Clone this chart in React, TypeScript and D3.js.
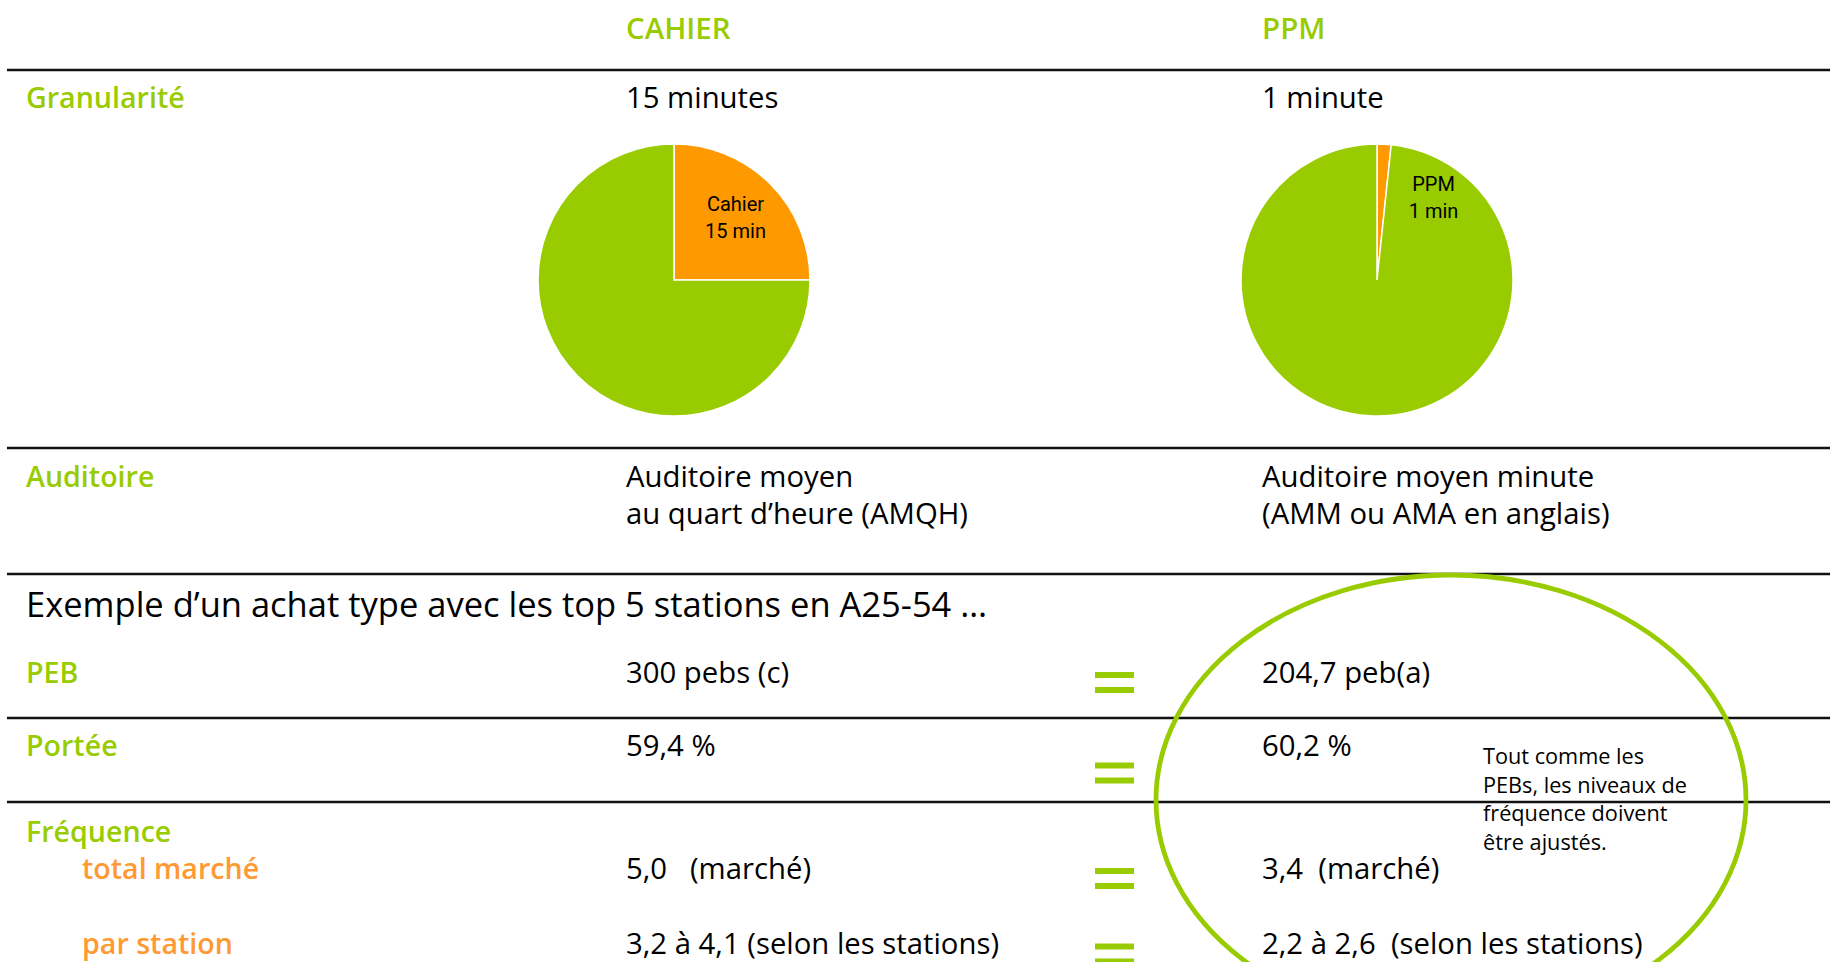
import React from "react";
import * as d3 from "d3";

const width = 1830;
const height = 962;

const GREEN = "#99CC00";
const ORANGE = "#FF9900";
const ORANGE_TEXT = "#FF9933";
const FONT = "'Open Sans', 'Noto Sans', sans-serif";

// data
const columns = ["CAHIER", "PPM"];
const granularity = ["15 minutes", "1 minute"];
const pieLabels = [["Cahier", "15 min"], ["PPM", "1 min"]];
const cahierMinutes = [15, 45];
const ppmMinutes = [1, 59];
const audienceCahier = ["Auditoire moyen", "au quart d’heure (AMQH)"];
const audiencePpm = ["Auditoire moyen minute", "(AMM ou AMA en anglais)"];
const exampleTitle = "Exemple d’un achat type avec les top 5 stations en A25-54 …";
const rowLabels = ["PEB", "Portée", "Fréquence"];
const subLabels = ["total marché", "par station"];
const cahierValues = ["300 pebs (c)", "59,4 %", "5,0   (marché)", "3,2 à 4,1 (selon les stations)"];
const ppmValues = ["204,7 peb(a)", "60,2 %", "3,4  (marché)", "2,2 à 2,6  (selon les stations)"];
const noteLines = ["Tout comme les", "PEBs, les niveaux de", "fréquence doivent", "être ajustés."];

// layout
const colX = [26, 626, 1262];
const subX = 82;
const ruleY = [70, 448, 574, 718, 802];
const valueBaselines = [683, 756, 879, 954];
const labelBaselines = [683, 756, 842];
const equalsCenters = [682.5, 773, 878.5, 954];
const pieCenters = [[674, 280], [1377, 280]];
const pieRadius = 136;
const labelShift = [[0, -2], [52, 3]];

const pie = d3.pie<number>().sort(null).value(d => d);
const arc = d3.arc<d3.PieArcDatum<number>>().innerRadius(0).outerRadius(pieRadius);
const labelArc = d3.arc<d3.PieArcDatum<number>>().innerRadius(87).outerRadius(87);

const Pie = ({ values, cx, cy, label, shift }: any) => {
  const arcs = pie(values);
  const [lx, ly] = labelArc.centroid(arcs[0]);
  return (
    <g transform={`translate(${cx},${cy})`}>
      {arcs.map((a, i) => (
        <path key={i} d={arc(a) || ""} fill={i === 0 ? ORANGE : GREEN} stroke="#fff" strokeWidth={1.5} />
      ))}
      <text
        x={lx + shift[0]}
        y={ly + shift[1]}
        textAnchor="middle"
        fontFamily="Roboto, sans-serif"
        fontSize={20}
        fill="#000"
      >
        <tspan x={lx + shift[0]} dy="-0.25em">{label[0]}</tspan>
        <tspan x={lx + shift[0]} dy="1.35em">{label[1]}</tspan>
      </text>
    </g>
  );
};

const Equals = ({ y }: { y: number }) => (
  <g>
    <rect x={1095} y={y - 10.5} width={39} height={6} fill={GREEN} />
    <rect x={1095} y={y + 4.5} width={39} height={6} fill={GREEN} />
  </g>
);

export default function App() {
  const txt = { fontFamily: FONT, fontSize: 29.3, fill: "#000" } as any;
  const lbl = { fontFamily: FONT, fontSize: 28.6, fontWeight: 600, fill: GREEN } as any;
  return (
    <svg
      width={width}
      height={height}
      style={{ position: "absolute", left: 0, top: 0, background: "#fff" }}
    >
      {ruleY.map((y, i) => (
        <line key={i} x1={7} x2={width} y1={y} y2={y} stroke="#111" strokeWidth={2.5} />
      ))}

      {columns.map((c, i) => (
        <text key={c} x={colX[i + 1]} y={39} {...lbl} fontSize={29.5}>{c}</text>
      ))}

      <text x={colX[0]} y={108} {...lbl}>Granularité</text>
      {granularity.map((g, i) => (
        <text key={g} x={colX[i + 1]} y={108} {...txt}>{g}</text>
      ))}

      {[cahierMinutes, ppmMinutes].map((v, i) => (
        <Pie key={i} values={v} cx={pieCenters[i][0]} cy={pieCenters[i][1]} label={pieLabels[i]} shift={labelShift[i]} />
      ))}

      <text x={colX[0]} y={487} {...lbl}>Auditoire</text>
      {[audienceCahier, audiencePpm].map((lines, i) =>
        lines.map((l, j) => (
          <text key={`${i}-${j}`} x={colX[i + 1]} y={487 + j * 37} {...txt}>{l}</text>
        ))
      )}

      <text x={colX[0]} y={617} fontFamily={FONT} fontSize={34.5} fontWeight={500} fill="#000">
        {exampleTitle}
      </text>

      {rowLabels.map((r, i) => (
        <text key={r} x={colX[0]} y={labelBaselines[i]} {...lbl}>{r}</text>
      ))}
      {subLabels.map((s, i) => (
        <text key={s} x={subX} y={valueBaselines[i + 2]} {...lbl} fill={ORANGE_TEXT}>{s}</text>
      ))}

      {cahierValues.map((v, i) => (
        <text key={v} x={colX[1]} y={valueBaselines[i]} {...txt} style={{ whiteSpace: "pre" }}>{v}</text>
      ))}
      {ppmValues.map((v, i) => (
        <text key={v} x={colX[2]} y={valueBaselines[i]} {...txt} style={{ whiteSpace: "pre" }}>{v}</text>
      ))}

      {equalsCenters.map((y, i) => (
        <Equals key={i} y={y} />
      ))}

      <ellipse cx={1451} cy={800} rx={295} ry={225} fill="none" stroke={GREEN} strokeWidth={4.8} />

      {noteLines.map((l, i) => (
        <text key={l} x={1483} y={764 + i * 28.5} fontFamily={FONT} fontSize={21.7} fill="#000">{l}</text>
      ))}
    </svg>
  );
}
